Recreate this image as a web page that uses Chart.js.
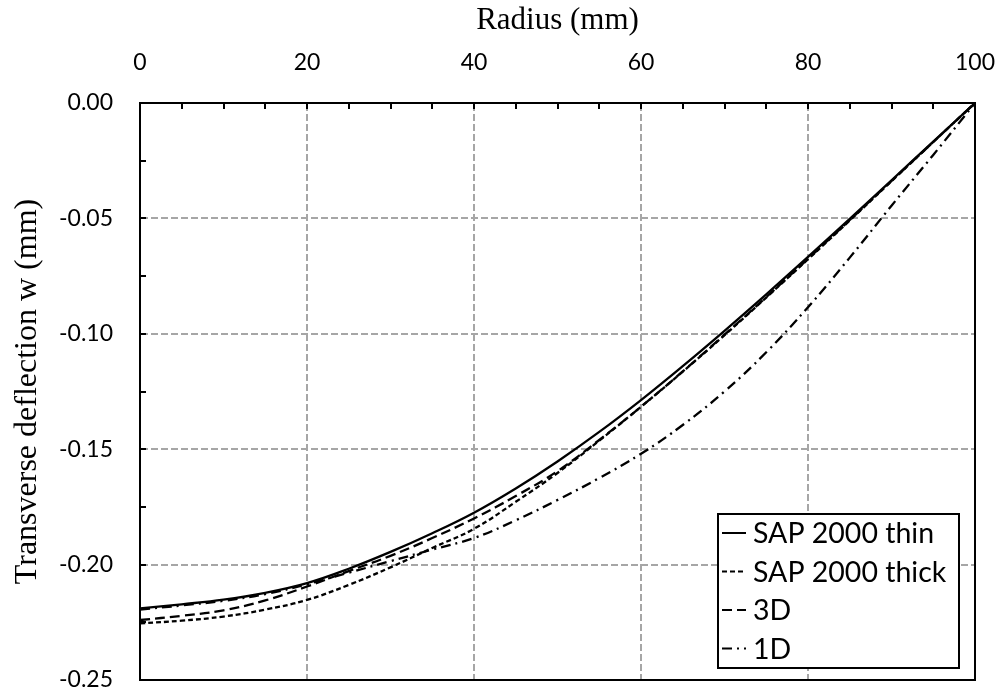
<!DOCTYPE html>
<html>
<head>
<meta charset="utf-8">
<script src="https://cdn.jsdelivr.net/npm/chart.js@4.4.1/dist/chart.umd.min.js"></script>
<style>
  html, body { margin: 0; padding: 0; background: #fff; }
</style>
</head>
<body>
<canvas id="myChart" width="999" height="687"></canvas>
<script>
// data
const radius = [0, 5, 10, 15, 20, 25, 30, 35, 40, 45, 50, 55, 60, 65, 70, 75, 80, 85, 90, 95, 100];
const sapThin = [-0.219, -0.2172, -0.2152, -0.2122, -0.2080, -0.2018, -0.1945, -0.1864, -0.1775, -0.1670, -0.1553, -0.1425, -0.1287, -0.1140, -0.0987, -0.0829, -0.0667, -0.0502, -0.0335, -0.0167, 0];
const sapThick = [-0.2255, -0.2243, -0.2225, -0.2195, -0.2153, -0.2088, -0.2012, -0.1928, -0.1845, -0.1728, -0.1603, -0.1463, -0.1316, -0.1164, -0.1006, -0.0843, -0.0677, -0.0509, -0.0339, -0.0169, 0];
const model3D = [-0.224, -0.2222, -0.2198, -0.2155, -0.2095, -0.2028, -0.1962, -0.1885, -0.1800, -0.1703, -0.1595, -0.1460, -0.1316, -0.1163, -0.1004, -0.0841, -0.0675, -0.0507, -0.0338, -0.0169, 0];
const model1D = [-0.2195, -0.2177, -0.2157, -0.2128, -0.2085, -0.2035, -0.1985, -0.1935, -0.1885, -0.1808, -0.1720, -0.1625, -0.1520, -0.1395, -0.1250, -0.1080, -0.0885, -0.0670, -0.0445, -0.0225, 0];

const seriesNames = ['SAP 2000 thin', 'SAP 2000 thick', '3D', '1D'];
const dashes = [[], [5, 3], [10, 5], [10, 5, 2, 5]];

function pts(ys) {
    return radius.map((r, i) => ({ x: r, y: ys[i] }));
}

// inward minor/major tick marks + full frame
const frameTicks = {
    id: 'frameTicks',
    afterDraw(chart) {
        const ctx = chart.ctx;
        const a = chart.chartArea;
        const xs = chart.scales.x, ys = chart.scales.y;
        ctx.save();
        ctx.strokeStyle = '#000';
        ctx.lineWidth = 2;
        ctx.setLineDash([]);
        ctx.beginPath();
        for (let v = 5; v < 100; v += 5) {
            const px = Math.round(xs.getPixelForValue(v));
            ctx.moveTo(px, a.top);
            ctx.lineTo(px, a.top + 6);
        }
        for (let v = -0.225; v < 0; v += 0.025) {
            const py = Math.round(ys.getPixelForValue(v));
            ctx.moveTo(a.left, py);
            ctx.lineTo(a.left + 6, py);
        }
        ctx.stroke();
        ctx.strokeRect(a.left, a.top, a.right - a.left, a.bottom - a.top);
        ctx.restore();
    }
};

// legend box inside the plot, bottom right
const boxLegend = {
    id: 'boxLegend',
    afterDraw(chart) {
        const ctx = chart.ctx;
        const a = chart.chartArea;
        const w = 241, h = 154;
        const x0 = a.right - 16 - w, y0 = a.bottom - 12 - h;
        ctx.save();
        ctx.fillStyle = '#fff';
        ctx.fillRect(x0, y0, w, h);
        ctx.strokeStyle = '#000';
        ctx.lineWidth = 2;
        ctx.strokeRect(x0, y0, w, h);
        ctx.font = '28.5px Lato';
        ctx.textBaseline = 'middle';
        ctx.fillStyle = '#000';
        chart.data.datasets.forEach((ds, i) => {
            const cy = y0 + 19 + i * 38.5;
            ctx.setLineDash(ds.borderDash || []);
            ctx.lineWidth = 2;
            ctx.beginPath();
            ctx.moveTo(x0 + 4, cy);
            ctx.lineTo(x0 + 28, cy);
            ctx.stroke();
            ctx.setLineDash([]);
            ctx.fillText(ds.label, x0 + 35, cy + 1);
        });
        ctx.restore();
    }
};

const ctx = document.getElementById('myChart');

new Chart(ctx, {
    type: 'line',
    data: {
        datasets: [sapThin, sapThick, model3D, model1D].map((s, i) => ({
            label: seriesNames[i],
            data: pts(s),
            borderColor: '#000',
            borderWidth: 2.3,
            borderDash: dashes[i],
            pointRadius: 0,
            fill: false,
            tension: 0.4
        }))
    },
    options: {
        responsive: false,
        devicePixelRatio: 1,
        animation: false,
        layout: { padding: { left: 0, top: 0, right: 24, bottom: 7 } },
        plugins: {
            legend: { display: false },
            tooltip: { enabled: false }
        },
        scales: {
            x: {
                type: 'linear',
                position: 'top',
                min: 0,
                max: 100,
                ticks: {
                    stepSize: 20,
                    padding: 27,
                    color: '#000',
                    font: { family: 'Lato', size: 23 }
                },
                grid: {
                    drawTicks: false,
                    color: '#a6a6a6',
                    lineWidth: 2
                },
                border: { display: true, color: '#000', width: 2, dash: [7, 3] },
                title: {
                    display: true,
                    text: 'Radius (mm)',
                    color: '#000',
                    font: { family: 'Liberation Serif', size: 31 },
                    padding: { top: 2, bottom: 0 }
                },
                afterFit(scale) {
                    scale.height = 103;
                    scale.paddingLeft = 0;
                    scale.paddingRight = 0;
                }
            },
            y: {
                min: -0.25,
                max: 0,
                ticks: {
                    stepSize: 0.05,
                    padding: 27,
                    color: '#000',
                    font: { family: 'Lato', size: 23 },
                    callback: (v) => Number(v).toFixed(2)
                },
                grid: {
                    drawTicks: false,
                    color: '#a6a6a6',
                    lineWidth: 2
                },
                border: { display: true, color: '#000', width: 2, dash: [7, 3] },
                title: {
                    display: true,
                    text: 'Transverse deflection w (mm)',
                    color: '#000',
                    font: { family: 'Liberation Serif', size: 32 },
                    padding: { top: 8, bottom: 0 }
                },
                afterFit(scale) {
                    scale.width = 140;
                    scale.paddingTop = 0;
                    scale.paddingBottom = 0;
                }
            }
        }
    },
    plugins: [frameTicks, boxLegend]
});
</script>
</body>
</html>
